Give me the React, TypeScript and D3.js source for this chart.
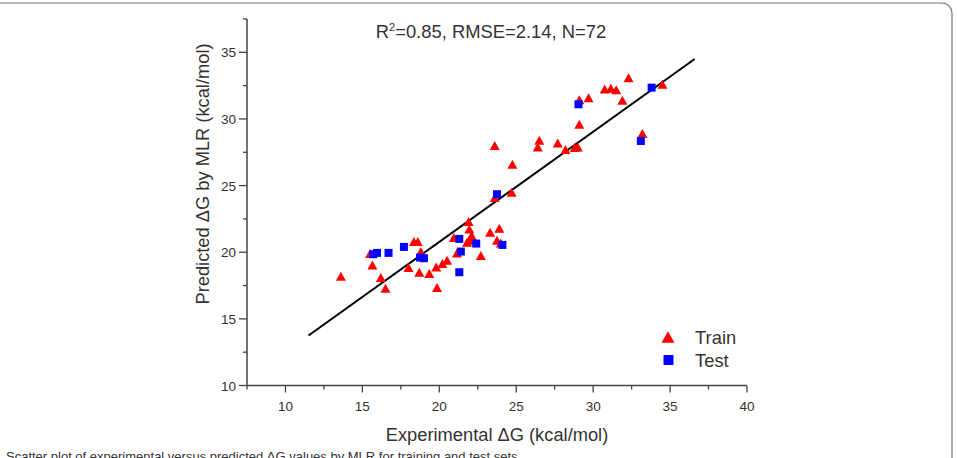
import * as d3 from "d3";

const W = 957;
const H = 458;

// experimental (x) vs predicted (y) dG, kcal/mol
const trainX = [13.6, 15.5, 15.65, 16.2, 16.5, 18.0, 18.35, 18.6, 18.8, 18.7, 19.35, 19.85, 19.8, 20.2, 20.5, 20.95, 21.15, 21.8, 21.9, 21.95, 22.1, 22.05, 22.7, 23.3, 23.9, 23.75, 24.0, 23.6, 24.7, 23.6, 24.75, 26.5, 26.4, 27.7, 28.2, 28.8, 29.0, 29.1, 29.1, 29.7, 30.75, 31.15, 31.5, 31.9, 32.3, 34.5, 33.2];
const trainY = [18.2, 19.9, 19.05, 18.1, 17.3, 18.85, 20.8, 20.8, 20.05, 18.5, 18.4, 17.35, 18.9, 19.15, 19.4, 21.1, 19.95, 20.75, 22.3, 21.75, 21.25, 20.9, 19.75, 21.5, 21.8, 20.9, 20.7, 24.1, 24.5, 28.0, 26.6, 28.4, 27.9, 28.2, 27.7, 27.85, 27.9, 29.6, 31.45, 31.6, 32.25, 32.3, 32.2, 31.4, 33.1, 32.6, 28.9];
const testX = [15.7, 15.95, 16.7, 17.7, 18.75, 19.0, 21.3, 21.4, 21.3, 22.4, 24.1, 23.75, 29.05, 33.8, 33.1];
const testY = [19.85, 19.95, 19.95, 20.4, 19.6, 19.55, 21.0, 20.05, 18.5, 20.65, 20.55, 24.35, 31.1, 32.35, 28.35];

const fitX = [11.5, 36.6];
const fitY = [13.75, 34.5];

const xTicks = [10, 15, 20, 25, 30, 35, 40];
const xMinor = [7.5, 12.5, 17.5, 22.5, 27.5, 32.5, 37.5];
const yTicks = [10, 15, 20, 25, 30, 35];
const yMinor = [12.5, 17.5, 22.5, 27.5, 32.5, 37.5];

const FONT = "Arial, 'Liberation Sans', sans-serif";
const AXIS = "#444";
const TXT = "#333";

const x = d3.scaleLinear().domain([7.5, 40]).range([247, 747]);
const y = d3.scaleLinear().domain([10, 37.5]).range([385.5, 19]);

const tri = (s: number) => `M0,${-s * 0.45}L${s / 2},${s * 0.45}L${-s / 2},${s * 0.45}Z`;

export default function App() {
  const line = d3.line<number>().x((d) => x(d)).y((_, i) => y(fitY[i]));
  return (
    <svg width={W} height={H} style={{ position: "absolute", left: 0, top: 0, background: "#fff" }} fontFamily={FONT}>
      <rect x={-20} y={3} width={972} height={520} rx={10} fill="none" stroke="#777" strokeWidth={1.2} />

      <text x={491} y={38} textAnchor="middle" fontSize={18.4} fill={TXT}>
        R<tspan dy={-7} fontSize={11}>2</tspan><tspan dy={7}>=0.85, RMSE=2.14, N=72</tspan>
      </text>

      {/* axes */}
      <line x1={x(7.5)} x2={x(40)} y1={y(10)} y2={y(10)} stroke={AXIS} strokeWidth={1.5} />
      <line x1={x(7.5)} x2={x(7.5)} y1={y(10)} y2={y(37.5)} stroke={AXIS} strokeWidth={1.5} />
      {xTicks.map((t) => (
        <g key={"xt" + t}>
          <line x1={x(t)} x2={x(t)} y1={y(10)} y2={y(10) + 7} stroke={AXIS} strokeWidth={1.3} />
          <text x={x(t)} y={411} textAnchor="middle" fontSize={13.5} fill={TXT}>{t}</text>
        </g>
      ))}
      {xMinor.map((t) => (
        <line key={"xm" + t} x1={x(t)} x2={x(t)} y1={y(10)} y2={y(10) + 4} stroke={AXIS} strokeWidth={1.3} />
      ))}
      {yTicks.map((t) => (
        <g key={"yt" + t}>
          <line x1={x(7.5) - 8} x2={x(7.5)} y1={y(t)} y2={y(t)} stroke={AXIS} strokeWidth={1.3} />
          <text x={236} y={y(t) + 5} textAnchor="end" fontSize={13.5} fill={TXT}>{t}</text>
        </g>
      ))}
      {yMinor.map((t) => (
        <line key={"ym" + t} x1={x(7.5) - 4} x2={x(7.5)} y1={y(t)} y2={y(t)} stroke={AXIS} strokeWidth={1.3} />
      ))}

      <text x={497} y={441} textAnchor="middle" fontSize={18.3} fill={TXT}>Experimental ΔG (kcal/mol)</text>
      <text transform={`translate(209, 174) rotate(-90)`} textAnchor="middle" fontSize={18.3} fill={TXT}>
        Predicted ΔG by MLR (kcal/mol)
      </text>

      {/* fit line */}
      <path d={line(fitX) ?? ""} stroke="#000" strokeWidth={2} fill="none" />

      {trainX.map((v, i) => (
        <path key={"tr" + i} d={tri(10)} transform={`translate(${x(v)},${y(trainY[i])})`} fill="#ff0000" />
      ))}
      {testX.map((v, i) => (
        <rect key={"te" + i} x={x(v) - 4} y={y(testY[i]) - 4} width={8} height={8} fill="#0000ff" />
      ))}

      {/* legend */}
      <path d={tri(13)} transform="translate(668,337)" fill="#ff0000" />
      <text x={695} y={344} fontSize={18.4} fill={TXT}>Train</text>
      <rect x={663.5} y={355} width={10} height={10} fill="#0000ff" />
      <text x={695} y={366.5} fontSize={18.4} fill={TXT}>Test</text>

      <text x={6} y={461} fontSize={13} fill="#333">
        Scatter plot of experimental versus predicted ΔG values by MLR for training and test sets.
      </text>
    </svg>
  );
}
